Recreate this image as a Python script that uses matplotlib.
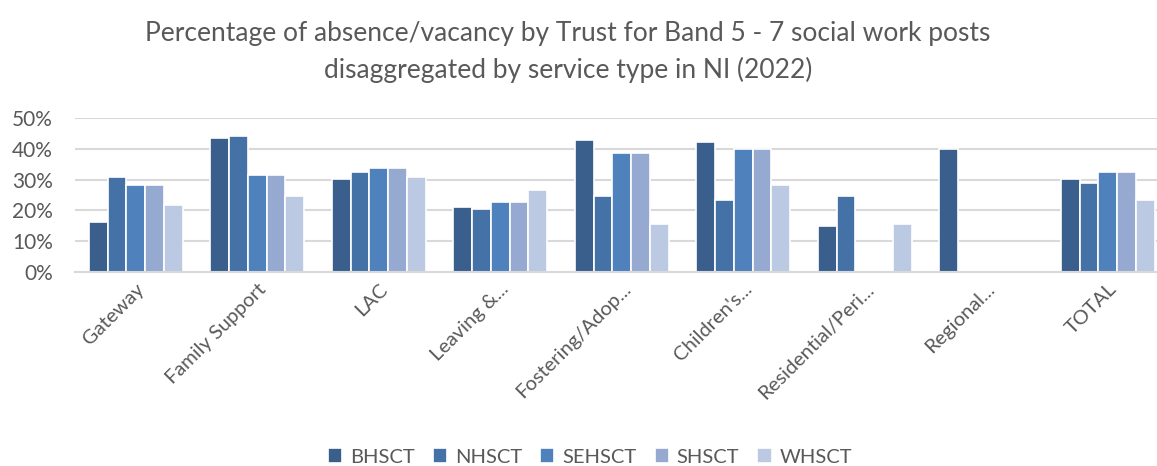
import matplotlib
matplotlib.use("Agg")
import matplotlib.pyplot as plt
import numpy as np
from matplotlib.ticker import PercentFormatter

plt.rcParams['font.family'] = ['Lato', 'DejaVu Sans']

# Data
categories = ["Gateway", "Family Support", "LAC", "Leaving &...", "Fostering/Adop...",
              "Children's...", "Residential/Peri...", "Regional...", "TOTAL"]
trusts = ["BHSCT", "NHSCT", "SEHSCT", "SHSCT", "WHSCT"]
bhsct = [16.3, 43.5, 30.2, 21.2, 42.7, 42.1, 14.9, 40.0, 30.2]
nhsct = [30.9, 44.2, 32.4, 20.4, 24.7, 23.3, 24.7, 0, 28.8]
sehsct = [28.2, 31.6, 33.7, 22.6, 38.6, 40.0, 0, 0, 32.4]
shsct = [28.2, 31.6, 33.7, 22.6, 38.6, 40.0, 0, 0, 32.4]
whsct = [21.8, 24.7, 30.9, 26.7, 15.5, 28.2, 15.5, 0, 23.3]
series = [bhsct, nhsct, sehsct, shsct, whsct]
colors = ["#3A5F8D", "#4472A7", "#4F81BD", "#95A9D1", "#BCC9E2"]

W, H = 1157, 466
fig = plt.figure(figsize=(W / 100, H / 100), dpi=100)
ax = fig.add_axes([75 / W, 1 - 272 / H, (W - 75) / W, (272 - 118) / H])

x = np.arange(len(categories))
bw = 0.154
for i, (vals, c, name) in enumerate(zip(series, colors, trusts)):
    ax.bar(x + (i - 2) * bw, vals, width=bw, color=c, edgecolor="white",
           linewidth=1.2, label=name, zorder=3)

ax.set_ylim(0, 50)
ax.set_xlim(-0.5, (W - 75) / 121.5 - 0.5)
ax.set_yticks([0, 10, 20, 30, 40, 50])
ax.yaxis.set_major_formatter(PercentFormatter(decimals=0))
ax.grid(axis="y", color="#D9D9D9", linewidth=1.5, zorder=0)
for s in ["top", "right", "left"]:
    ax.spines[s].set_visible(False)
ax.spines["bottom"].set_color("#D9D9D9")
ax.spines["bottom"].set_linewidth(1.5)
ax.spines["bottom"].set_zorder(4)
ax.tick_params(axis="both", length=0, colors="#595959", labelsize=15)
ax.tick_params(axis="y", pad=16)
ax.tick_params(axis="x", pad=6)
ax.set_xticks(x)
ax.set_xticklabels(categories, rotation=45, ha="right", rotation_mode="anchor",
                   fontsize=14.5)

fig.text(568 / W, 1 - 34 / H,
         "Percentage of absence/vacancy by Trust for Band 5 - 7 social work posts",
         ha="center", va="center", fontsize=19, color="#595959")
fig.text(568 / W, 1 - 70 / H, "disaggregated by service type in NI (2022)",
         ha="center", va="center", fontsize=19, color="#595959")

fig.legend(loc="center", bbox_to_anchor=(590 / W, 1 - 457 / H), ncol=5,
           frameon=False, fontsize=14.5, labelcolor="#595959", handlelength=0.7,
           handleheight=0.7, handletextpad=0.4, columnspacing=0.9)

fig.savefig("out.png", dpi=100)
